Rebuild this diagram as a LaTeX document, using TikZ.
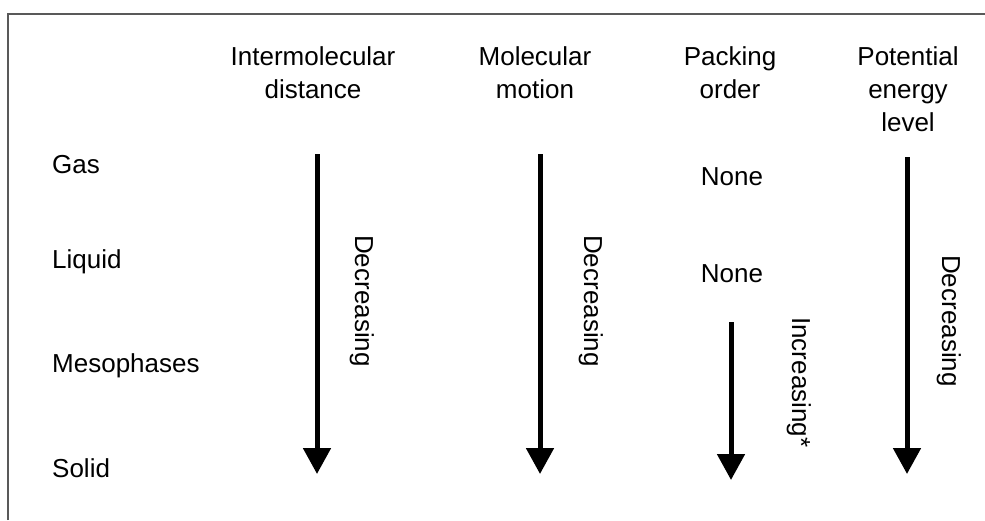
\documentclass[tikz,border=0pt]{standalone}
\usepackage{fontspec}
\setmainfont{Liberation Sans}
\usetikzlibrary{arrows.meta}
\tikzset{
  lbl/.style={inner sep=0pt, font=\fontsize{26}{33}\selectfont},
  hdr/.style={lbl, align=center, anchor=base},
  rot/.style={lbl, rotate=-90, anchor=base west},
  bigarrow/.style={line width=5pt, -{Triangle[width=27pt,length=26pt]}},
  frame/.style={draw=black!65, line width=2pt}
}
\begin{document}
\begin{tikzpicture}[x=1pt,y=-1pt]
\useasboundingbox (0,0) rectangle (985,520);
\draw[frame] (8,520) -- (8,14) -- (985,14);
% headers (anchor = baseline of last line)
\node[hdr] (h1) at (313,98) {Intermolecular\\distance};
\node[hdr] (h2) at (535,98) {Molecular\\motion};
\node[hdr] (h3) at (730,98) {Packing\\order};
\node[hdr] (h4) at (908,131) {Potential\\energy\\level};
% rows
\node[lbl, anchor=base west] (gas) at (52,173) {Gas};
\node[lbl, anchor=base west] (liq) at (52,268) {Liquid};
\node[lbl, anchor=base west] (meso) at (52,372) {Mesophases};
\node[lbl, anchor=base west] (sol) at (52,477) {Solid};
% none
\node[lbl, anchor=base] (n1) at (732,185) {None};
\node[lbl, anchor=base] (n2) at (732,282) {None};
% arrows
\coordinate (a1s) at (317,154); \coordinate (a1e) at (317,474);
\coordinate (a2s) at (540,154); \coordinate (a2e) at (540,474);
\coordinate (a3s) at (731,322); \coordinate (a3e) at (731,480);
\coordinate (a4s) at (907,157); \coordinate (a4e) at (907,474);
\draw[bigarrow] (a1s) -- (a1e);
\draw[bigarrow] (a2s) -- (a2e);
\draw[bigarrow] (a3s) -- (a3e);
\draw[bigarrow] (a4s) -- (a4e);
% rotated labels
\node[rot] (d1) at (355,235) {Decreasing};
\node[rot] (d2) at (584,235) {Decreasing};
\node[rot] (i3) at (792,317) {Increasing*};
\node[rot] (d4) at (942,255) {Decreasing};
\end{tikzpicture}
\end{document}
